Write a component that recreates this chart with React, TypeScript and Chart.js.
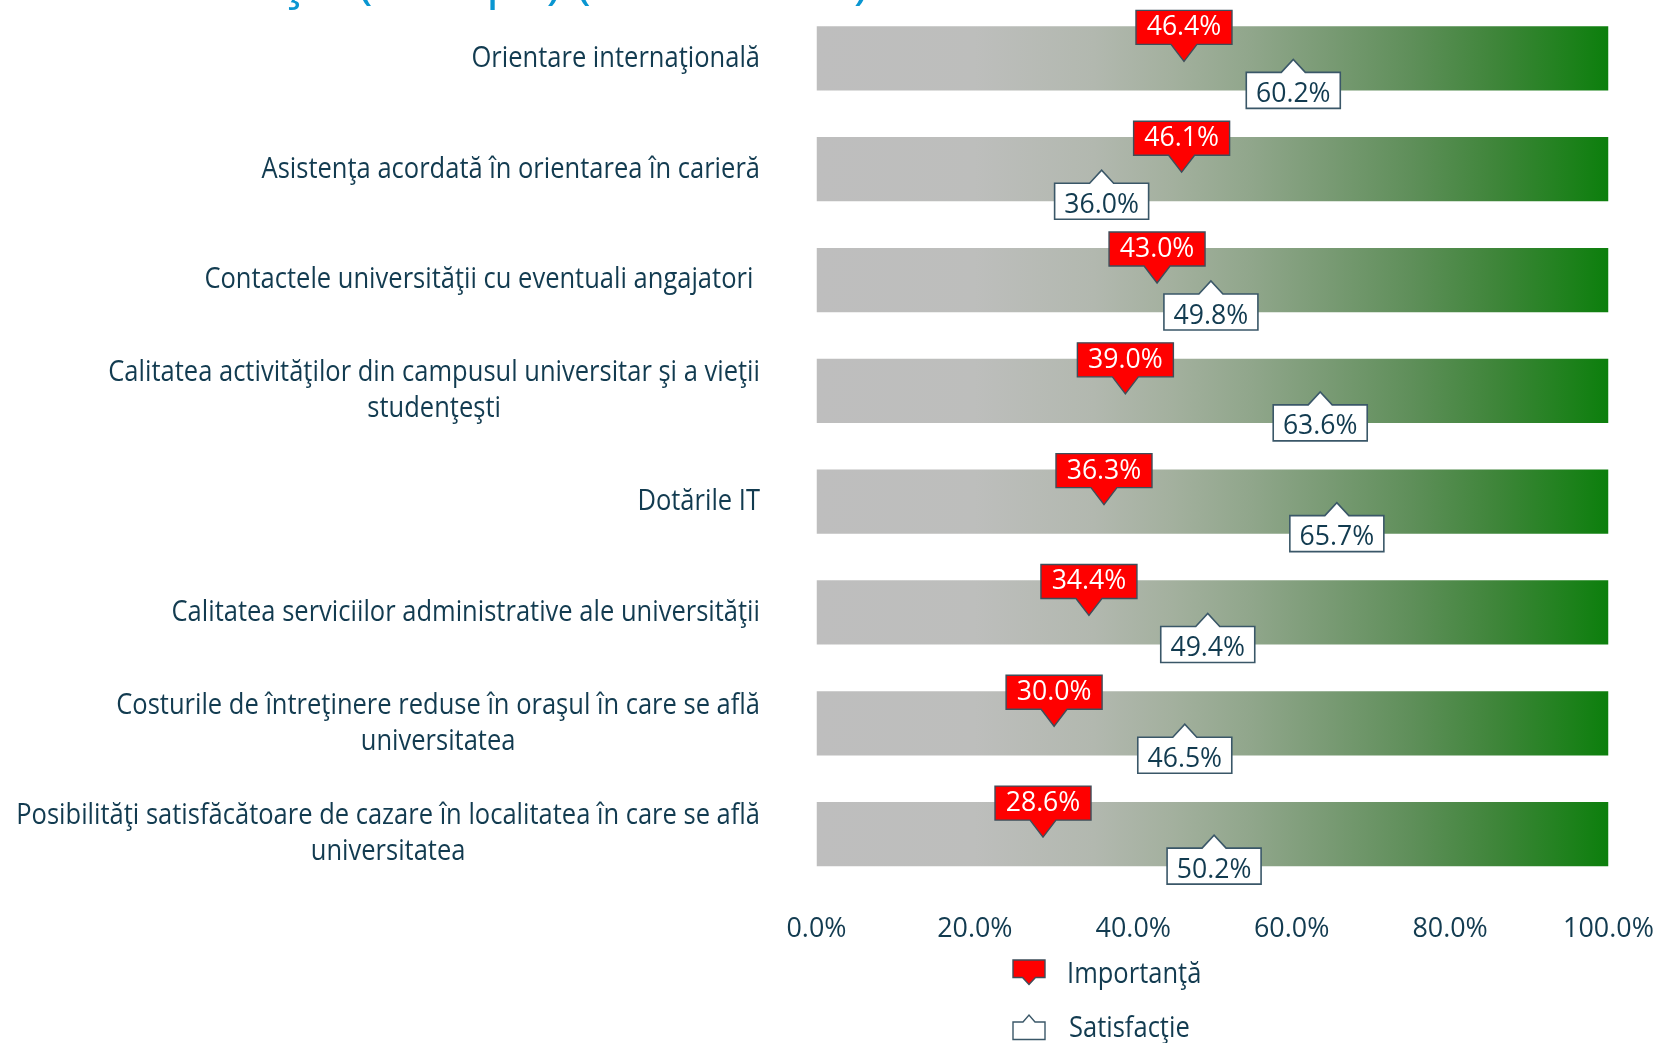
import React, { useEffect, useRef } from 'react';
import { Chart, registerables } from 'chart.js';

Chart.register(...registerables);

// ---------- data ----------
const titleText = 'Importanţă vs. Satisfacţie (Europa) (continuare)';
const categories: string[][] = [
  ['Orientare internaţională'],
  ['Asistenţa acordată în orientarea în carieră'],
  ['Contactele universităţii cu eventuali angajatori '],
  ['Calitatea activităţilor din campusul universitar şi a vieţii', 'studenţeşti'],
  ['Dotările IT'],
  ['Calitatea serviciilor administrative ale universităţii'],
  ['Costurile de întreţinere reduse în oraşul în care se află', 'universitatea'],
  ['Posibilităţi satisfăcătoare de cazare în localitatea în care se află', 'universitatea'],
];
const seriesNames = ['Importanţă', 'Satisfacţie'];
const importanta = [46.4, 46.1, 43.0, 39.0, 36.3, 34.4, 30.0, 28.6];
const satisfactie = [60.2, 36.0, 49.8, 63.6, 65.7, 49.4, 46.5, 50.2];
const scaleBar = [100, 100, 100, 100, 100, 100, 100, 100];
const axisMin = 0;
const axisMax = 100;
const axisStep = 20;

// ---------- style ----------
const FONT = '"Open Sans"';
const SX = 0.88;
const TEXT = '#123B50';
const RED = '#FF0000';
const BORDER = '#3E4E5A';
const fmt = (v: number) => v.toFixed(1) + '%';

function txt(
  ctx: CanvasRenderingContext2D,
  s: string,
  x: number,
  yCenter: number,
  size: number,
  color: string,
  align: 'left' | 'right' | 'center',
  sx = SX
) {
  ctx.save();
  ctx.font = `${size}px ${FONT}`;
  ctx.fillStyle = color;
  ctx.textBaseline = 'alphabetic';
  ctx.textAlign = 'left';
  const w = ctx.measureText(s).width * sx;
  const left = align === 'left' ? x : align === 'right' ? x - w : x - w / 2;
  ctx.translate(left, yCenter + 0.357 * size);
  ctx.scale(sx, 1);
  ctx.fillText(s, 0, 0);
  ctx.restore();
}

function measure(ctx: CanvasRenderingContext2D, s: string, size: number, sx = SX) {
  ctx.save();
  ctx.font = `${size}px ${FONT}`;
  const w = ctx.measureText(s).width * sx;
  ctx.restore();
  return w;
}

function redShape(ctx: CanvasRenderingContext2D, l: number, r: number, top: number, bottom: number, cx: number, tipY: number, hw: number) {
  ctx.beginPath();
  ctx.moveTo(l, top);
  ctx.lineTo(r, top);
  ctx.lineTo(r, bottom);
  ctx.lineTo(cx + hw, bottom);
  ctx.lineTo(cx, tipY);
  ctx.lineTo(cx - hw, bottom);
  ctx.lineTo(l, bottom);
  ctx.closePath();
}

function whiteShape(ctx: CanvasRenderingContext2D, l: number, r: number, top: number, bottom: number, cx: number, tipY: number, hw: number) {
  ctx.beginPath();
  ctx.moveTo(l, top);
  ctx.lineTo(cx - hw, top);
  ctx.lineTo(cx, tipY);
  ctx.lineTo(cx + hw, top);
  ctx.lineTo(r, top);
  ctx.lineTo(r, bottom);
  ctx.lineTo(l, bottom);
  ctx.closePath();
}

const decorPlugin = {
  id: 'decor',
  afterDatasetsDraw(chart: any) {
    const ctx: CanvasRenderingContext2D = chart.ctx;
    // satisfaction callouts (white, pointer up)
    const mS = chart.getDatasetMeta(2);
    mS.data.forEach((pt: any, i: number) => {
      const cx = pt.x, cy = pt.y;
      const w = 94, top = cy + 14, bottom = cy + 50;
      ctx.save();
      whiteShape(ctx, cx - w / 2, cx + w / 2, top, bottom, cx, cy + 1, 12);
      ctx.fillStyle = '#FFFFFF';
      ctx.fill();
      ctx.lineWidth = 1.6;
      ctx.strokeStyle = '#3A5768';
      ctx.stroke();
      ctx.restore();
      txt(ctx, fmt(satisfactie[i]), cx, (top + bottom) / 2 + 1.5, 28, TEXT, 'center', 0.95);
    });
    // importance callouts (red, pointer down)
    const mI = chart.getDatasetMeta(1);
    mI.data.forEach((pt: any, i: number) => {
      const cx = pt.x, cy = pt.y;
      const w = 96, bottom = cy - 14, top = bottom - 34;
      ctx.save();
      redShape(ctx, cx - w / 2, cx + w / 2, top, bottom, cx, cy + 3, 13);
      ctx.fillStyle = RED;
      ctx.fill();
      ctx.lineWidth = 1.4;
      ctx.strokeStyle = BORDER;
      ctx.stroke();
      ctx.restore();
      txt(ctx, fmt(importanta[i]), cx, (top + bottom) / 2 - 2, 28, '#FFFFFF', 'center', 0.95);
    });
  },
  afterDraw(chart: any) {
    const ctx: CanvasRenderingContext2D = chart.ctx;
    const yScale = chart.scales.y;
    const xScale = chart.scales.x;
    // title (cut off at the top)
    ctx.save();
    ctx.font = `52px ${FONT}`;
    ctx.fillStyle = '#0A96D1';
    ctx.textAlign = 'right';
    ctx.textBaseline = 'alphabetic';
    ctx.fillText(titleText, 869, -2.5);
    ctx.restore();
    // category labels
    const right = 760;
    categories.forEach((lines, i) => {
      const cy = yScale.getPixelForValue(i) - 2;
      const blockW = Math.max(...lines.map((s) => measure(ctx, s, 29)));
      const mid = right - blockW / 2;
      lines.forEach((s, j) => {
        const w = measure(ctx, s, 29);
        const y = cy + (j - (lines.length - 1) / 2) * 36;
        txt(ctx, s, mid - w / 2, y, 29, TEXT, 'left');
      });
    });
    // x tick labels
    xScale.ticks.forEach((t: any) => {
      const x = xScale.getPixelForValue(t.value);
      txt(ctx, fmt(t.value), x, xScale.top + 38, 28, TEXT, 'center', 0.96);
    });
    // legend
    ctx.save();
    redShape(ctx, 1013, 1045, 960, 977.5, 1029, 984.5, 6.5);
    ctx.fillStyle = RED;
    ctx.fill();
    ctx.lineWidth = 1.4;
    ctx.strokeStyle = BORDER;
    ctx.stroke();
    whiteShape(ctx, 1013, 1045, 1022, 1039.5, 1029, 1015, 6);
    ctx.fillStyle = '#FFFFFF';
    ctx.fill();
    ctx.strokeStyle = '#3A5768';
    ctx.stroke();
    ctx.restore();
    txt(ctx, seriesNames[0], 1067, 973, 29, TEXT, 'left');
    txt(ctx, seriesNames[1], 1069, 1027, 29, TEXT, 'left');
  },
};

function gradientFor(chart: any) {
  const area = chart.chartArea;
  if (!area) return '#BEBEBE';
  const g = chart.ctx.createLinearGradient(area.left, 0, area.right, 0);
  g.addColorStop(0, '#BEBEBE');
  g.addColorStop(0.2, '#BDBEBC');
  g.addColorStop(0.35, '#B2B8AF');
  g.addColorStop(0.45, '#A3B09E');
  g.addColorStop(0.55, '#90A68B');
  g.addColorStop(0.65, '#789A73');
  g.addColorStop(0.75, '#5F8F5A');
  g.addColorStop(0.86, '#3E8539');
  g.addColorStop(1, '#0C7F0C');
  return g;
}

export default function App() {
  const ref = useRef<HTMLCanvasElement | null>(null);
  useEffect(() => {
    if (!ref.current) return;
    const chart = new Chart(ref.current, {
      type: 'bar',
      data: {
        labels: categories,
        datasets: [
          {
            type: 'bar',
            label: 'scale',
            data: scaleBar,
            backgroundColor: (c: any) => gradientFor(c.chart),
            borderWidth: 0,
            categoryPercentage: 1,
            barPercentage: 0.58,
          } as any,
          {
            type: 'line',
            label: seriesNames[0],
            data: importanta,
            showLine: false,
            pointRadius: 0,
            pointHoverRadius: 0,
          } as any,
          {
            type: 'line',
            label: seriesNames[1],
            data: satisfactie,
            showLine: false,
            pointRadius: 0,
            pointHoverRadius: 0,
          } as any,
        ],
      },
      options: {
        indexAxis: 'y',
        responsive: false,
        animation: false,
        events: [],
        layout: { padding: { left: 0, right: 46.5, top: 3, bottom: 0 } },
        plugins: {
          legend: { display: false },
          tooltip: { enabled: false },
          title: { display: false },
        },
        scales: {
          x: {
            type: 'linear',
            min: axisMin,
            max: axisMax,
            ticks: { stepSize: axisStep, display: false },
            grid: { display: false, drawTicks: false },
            border: { display: false },
            afterFit: (s: any) => {
              s.height = 153.5;
            },
          },
          y: {
            type: 'category',
            ticks: { display: false },
            grid: { display: false, drawTicks: false },
            border: { display: false },
            afterFit: (s: any) => {
              s.width = 816.5;
            },
          },
        },
      } as any,
      plugins: [decorPlugin],
    });
    return () => chart.destroy();
  }, []);
  return (
    <div style={{ position: 'fixed', left: 0, top: 0, width: 1655, height: 1043, background: '#fff' }}>
      <canvas ref={ref} width={1655} height={1043} style={{ display: 'block' }} />
    </div>
  );
}
